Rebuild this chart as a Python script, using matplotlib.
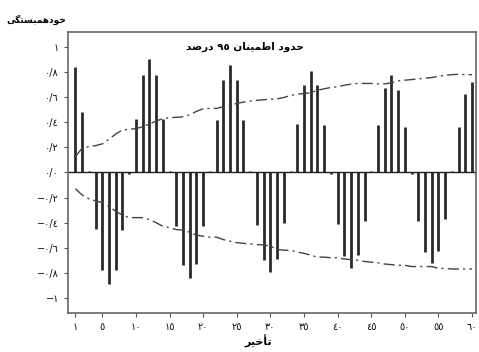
import matplotlib
matplotlib.use("Agg")
import matplotlib.pyplot as plt
import numpy as np

lags = list(range(1, 61))
acf = [0.84, 0.48, 0.01, -0.45, -0.78, -0.89, -0.78, -0.46, -0.01, 0.43,
       0.775, 0.905, 0.78, 0.43, 0.01, -0.43, -0.74, -0.84, -0.73, -0.43,
       0.01, 0.42, 0.74, 0.86, 0.74, 0.42, 0.01, -0.415, -0.70, -0.79,
       -0.69, -0.40, 0.01, 0.39, 0.70, 0.81, 0.70, 0.38, -0.01, -0.41,
       -0.67, -0.76, -0.66, -0.39, 0.01, 0.38, 0.67, 0.775, 0.655, 0.36,
       -0.01, -0.39, -0.635, -0.725, -0.625, -0.37, 0.01, 0.36, 0.625, 0.725]
upper = [0.127, 0.194, 0.206, 0.214, 0.228, 0.265, 0.307, 0.339, 0.344, 0.35,
         0.365, 0.387, 0.41, 0.429, 0.437, 0.44, 0.444, 0.46, 0.487, 0.508,
         0.511, 0.511, 0.524, 0.535, 0.551, 0.561, 0.569, 0.575, 0.58, 0.585,
         0.587, 0.598, 0.614, 0.625, 0.63, 0.635, 0.656, 0.667, 0.678, 0.683,
         0.696, 0.704, 0.71, 0.71, 0.71, 0.707, 0.707, 0.714, 0.73, 0.736,
         0.741, 0.746, 0.752, 0.757, 0.767, 0.775, 0.78, 0.783, 0.78, 0.78]
lower = [-0.129, -0.18, -0.21, -0.227, -0.24, -0.27, -0.31, -0.34, -0.36, -0.36,
         -0.36, -0.375, -0.40, -0.43, -0.44, -0.455, -0.46, -0.476, -0.50, -0.508,
         -0.516, -0.516, -0.535, -0.548, -0.56, -0.565, -0.57, -0.575, -0.578, -0.587,
         -0.613, -0.62, -0.62, -0.635, -0.645, -0.66, -0.675, -0.675, -0.68, -0.68,
         -0.69, -0.695, -0.70, -0.71, -0.715, -0.72, -0.73, -0.735, -0.74, -0.74,
         -0.75, -0.75, -0.75, -0.75, -0.765, -0.765, -0.77, -0.77, -0.77, -0.77]

xtick_pos = [1, 5, 10, 15, 20, 25, 30, 35, 40, 45, 50, 55, 60]
xtick_labels = ["١", "٥", "١٠", "١٥", "٢٠", "٢٥", "٣٠", "٣٥", "٤٠", "٤٥", "٥٠", "٥٥", "٦٠"]
ytick_pos = [1, 0.8, 0.6, 0.4, 0.2, 0, -0.2, -0.4, -0.6, -0.8, -1]
ytick_labels = ["١", "٠/٨", "٠/٦", "٠/٤", "٠/٢", "٠/٠", "−٠/٢", "−٠/٤", "−٠/٦", "−٠/٨", "−١"]

# pre-shaped (visual order) Persian strings
title_txt = "\uFEAA\uFEBB\uFEAD\uFEA9 ٩٥ \uFEE5\uFE8E\uFEE8\uFBFF\uFEE4\uFEC3\uFE8D \uFEA9\uFEED\uFEAA\uFEA3"
xlabel_txt = "\uFEAE\uFBFF\uFEA7\uFE84\uFE97"
ylabel_txt = "\uFBFD\uFB95\uFE98\uFEB4\uFE92\uFEE4\uFEEB\uFEA9\uFEEE\uFEA7"

plt.rcParams['font.family'] = ['DejaVu Sans']

fig = plt.figure(figsize=(4.79, 3.52), dpi=100)
ax = fig.add_axes([0.142, 0.111, 0.852, 0.798])

ax.vlines(lags, 0, acf, colors="#2a2a2a", linewidth=2.0)
ax.axhline(0, color="#222222", linewidth=1.0)
ax.plot(lags, upper, color="#444444", linestyle=(0, (8, 3, 1.5, 3)), linewidth=1.0)
ax.plot(lags, lower, color="#444444", linestyle=(0, (8, 3, 1.5, 3)), linewidth=1.0)

ax.set_xlim(-0.1, 60.6)
ax.set_ylim(-1.12, 1.12)
ax.set_xticks(xtick_pos)
ax.set_xticklabels(xtick_labels, fontsize=7)
ax.set_yticks(ytick_pos)
ax.set_yticklabels(ytick_labels, fontsize=7)
ax.tick_params(direction="out", length=3, width=0.8, colors="#555555", labelcolor="#111111")
for s in ax.spines.values():
    s.set_color("#666666")
    s.set_linewidth(1.2)

ax.text(0.434, 0.965, title_txt, transform=ax.transAxes, ha="center", va="top",
        fontsize=7.5, fontweight="bold")
fig.text(36 / 479, 1 - 20 / 352, ylabel_txt, ha="center", va="center", fontsize=6.5, fontweight="bold")
fig.text(258 / 479, 1 - 341 / 352, xlabel_txt, ha="center", va="center", fontsize=8, fontweight="bold")

fig.savefig("out.png", dpi=100)
